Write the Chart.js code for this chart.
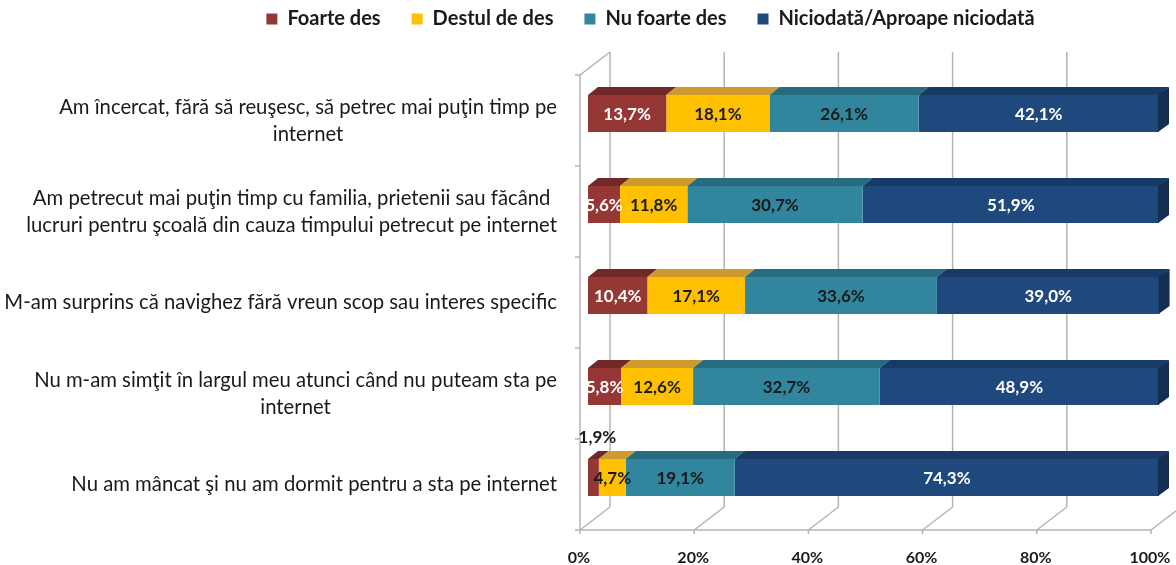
<!DOCTYPE html>
<html>
<head>
<meta charset="utf-8">
<script src="https://cdn.jsdelivr.net/npm/chart.js@4.4.0/dist/chart.umd.min.js"></script>
<style>
html,body{margin:0;padding:0;background:#ffffff;}
#wrap{width:1176px;height:565px;}
</style>
</head>
<body>
<div id="wrap"><canvas id="c" width="1176" height="565"></canvas></div>
<script>
// ---------- DATA ----------
const categories = [
  ["Am încercat, fără să reuşesc, să petrec mai puţin timp pe", "internet"],
  ["Am petrecut mai puţin timp cu familia, prietenii sau făcând", "lucruri pentru şcoală din cauza timpului petrecut pe internet"],
  ["M-am surprins că navighez fără vreun scop sau interes specific"],
  ["Nu m-am simţit în largul meu atunci când nu puteam sta pe", "internet"],
  ["Nu am mâncat şi nu am dormit pentru a sta pe internet"]
];
const seriesNames = ["Foarte des", "Destul de des", "Nu foarte des", "Niciodată/Aproape niciodată"];
const foarteDes   = [13.7, 5.6, 10.4, 5.8, 1.9];
const destulDeDes = [18.1, 11.8, 17.1, 12.6, 4.7];
const nuFoarteDes = [26.1, 30.7, 33.6, 32.7, 19.1];
const niciodata   = [42.1, 51.9, 39.0, 48.9, 74.3];
const xTickValues = [0, 20, 40, 60, 80, 100];

// ---------- STYLE ----------
const frontColors = ["#953735", "#FFC000", "#31859C", "#1F497D"];
const topColors   = ["#722826", "#CC9A2E", "#276C7E", "#183A66"];
const sideColors  = ["#5E201F", "#B38600", "#1F5564", "#142E52"];
const labelColors = ["#ffffff", "#1a1a1a", "#1a1a1a", "#ffffff"];
const FRONT = {dx: -8, dy: 7};
const BACK  = {dx: 22, dy: -16};
const DEPTH = {dx: 10, dy: 8};
const GRID_COLOR = "#b4b4b4";
const LABEL_RIGHT = 557;
const LEGEND_H = 90;

function fmt(v){ return v.toFixed(1).replace('.', ',') + '%'; }

function line(ctx, x1, y1, x2, y2){
  ctx.beginPath(); ctx.moveTo(x1, y1); ctx.lineTo(x2, y2); ctx.stroke();
}

const legendSpacer = {
  id: 'legendSpacer',
  beforeLayout(chart){
    const lg = chart.legend;
    if (lg && !lg._patched){
      const f = lg.fit;
      lg.fit = function(){ f.call(this); this.height = LEGEND_H; };
      lg._patched = true;
    }
  }
};

const threeD = {
  id: 'threeD',
  beforeDatasetsDraw(chart){
    const ctx = chart.ctx, xs = chart.scales.x, ys = chart.scales.y, a = chart.chartArea;
    ctx.save();
    ctx.strokeStyle = GRID_COLOR;
    ctx.lineWidth = 1.5;
    const fy = a.bottom + FRONT.dy, by = a.bottom + BACK.dy, ty = a.top + BACK.dy;
    xTickValues.forEach(v => {
      const px = xs.getPixelForValue(v);
      line(ctx, px + BACK.dx, ty, px + BACK.dx, by);
      line(ctx, px + FRONT.dx, fy, px + BACK.dx, by);
      line(ctx, px + FRONT.dx, fy, px + FRONT.dx, fy + 4);
    });
    const x0 = xs.getPixelForValue(0);
    const x100 = xs.getPixelForValue(100);
    line(ctx, x0 + FRONT.dx, fy, x100 + FRONT.dx, fy);
    const lx = x0 + FRONT.dx;
    line(ctx, lx, a.top + FRONT.dy, lx, fy);
    line(ctx, lx, a.top + FRONT.dy, x0 + BACK.dx, ty);
    for (let i = 0; i <= categories.length; i++){
      const y = ys.getPixelForValue(i - 0.5) + FRONT.dy;
      line(ctx, lx - 5, y, lx, y);
    }
    ctx.restore();
  },
  afterDatasetsDraw(chart){
    const ctx = chart.ctx;
    ctx.save();
    const n = chart.data.datasets.length;
    chart.data.datasets.forEach((ds, di) => {
      const meta = chart.getDatasetMeta(di);
      meta.data.forEach((el) => {
        const p = el.getProps(['x', 'y', 'base', 'height'], true);
        const l = Math.min(p.x, p.base), r = Math.max(p.x, p.base);
        const t = p.y - p.height / 2, b = p.y + p.height / 2;
        ctx.fillStyle = topColors[di];
        ctx.beginPath();
        ctx.moveTo(l, t); ctx.lineTo(r, t);
        ctx.lineTo(r + DEPTH.dx, t - DEPTH.dy); ctx.lineTo(l + DEPTH.dx, t - DEPTH.dy);
        ctx.closePath(); ctx.fill();
        if (di === n - 1){
          const rs = r - 1;
          ctx.fillStyle = sideColors[di];
          ctx.beginPath();
          ctx.moveTo(rs, t); ctx.lineTo(r + DEPTH.dx, t - DEPTH.dy);
          ctx.lineTo(r + DEPTH.dx, b - DEPTH.dy); ctx.lineTo(rs, b);
          ctx.closePath(); ctx.fill();
        }
      });
    });
    ctx.font = 'bold 17px Lato';
    ctx.textAlign = 'center';
    ctx.textBaseline = 'middle';
    chart.data.datasets.forEach((ds, di) => {
      const meta = chart.getDatasetMeta(di);
      meta.data.forEach((el, i) => {
        const v = ds.data[i];
        const p = el.getProps(['x', 'y', 'base', 'height'], true);
        const cx = (p.x + p.base) / 2;
        if (v < 3){
          ctx.fillStyle = '#1a1a1a';
          ctx.fillText(fmt(v), cx + 4, p.y - p.height / 2 - 21);
        } else {
          ctx.fillStyle = labelColors[di];
          ctx.fillText(fmt(v), cx, p.y + 1);
        }
      });
    });
    ctx.restore();
  },
  afterDraw(chart){
    const ctx = chart.ctx, ys = chart.scales.y;
    ctx.save();
    ctx.font = '20.3px Lato';
    ctx.fillStyle = '#1a1a1a';
    ctx.textAlign = 'center';
    ctx.textBaseline = 'middle';
    categories.forEach((lines, i) => {
      const cy = ys.getPixelForValue(i) + FRONT.dy;
      const w = Math.max(...lines.map(s => ctx.measureText(s).width));
      const cx = LABEL_RIGHT - w / 2;
      const lh = 27;
      const y0 = cy - (lines.length - 1) * lh / 2;
      lines.forEach((s, j) => ctx.fillText(s, cx, y0 + j * lh));
    });
    ctx.restore();
  }
};

const seriesData = [foarteDes, destulDeDes, nuFoarteDes, niciodata];

new Chart(document.getElementById('c'), {
  type: 'bar',
  data: {
    labels: categories,
    datasets: seriesNames.map((name, i) => ({
      label: name,
      data: seriesData[i],
      backgroundColor: frontColors[i],
      borderWidth: 0,
      barPercentage: 0.407,
      categoryPercentage: 1,
      clip: false
    }))
  },
  options: {
    indexAxis: 'y',
    responsive: false,
    animation: false,
    layout: { padding: { left: 142, right: 17, top: -22, bottom: 0 }, autoPadding: false },
    plugins: {
      tooltip: { enabled: false },
      legend: {
        position: 'top',
        labels: {
          boxWidth: 11, boxHeight: 11, padding: 31,
          color: '#1a1a1a',
          font: { family: 'Lato', size: 20, weight: 'bold' }
        }
      }
    },
    scales: {
      x: {
        stacked: true, min: 0, max: 100,
        grid: { display: false, drawTicks: false },
        border: { display: false },
        ticks: {
          stepSize: 20, padding: 25, labelOffset: -9,
          color: '#1a1a1a',
          font: { family: 'Lato', size: 16, weight: 'bold' },
          callback: v => v + '%'
        },
        afterFit: s => { s.height = 42; s.paddingLeft = 0; s.paddingRight = 0; }
      },
      y: {
        stacked: true,
        grid: { display: false, drawTicks: false },
        border: { display: false },
        ticks: { display: false },
        afterFit: s => { s.width = 446; }
      }
    }
  },
  plugins: [legendSpacer, threeD]
});
</script>
</body>
</html>
